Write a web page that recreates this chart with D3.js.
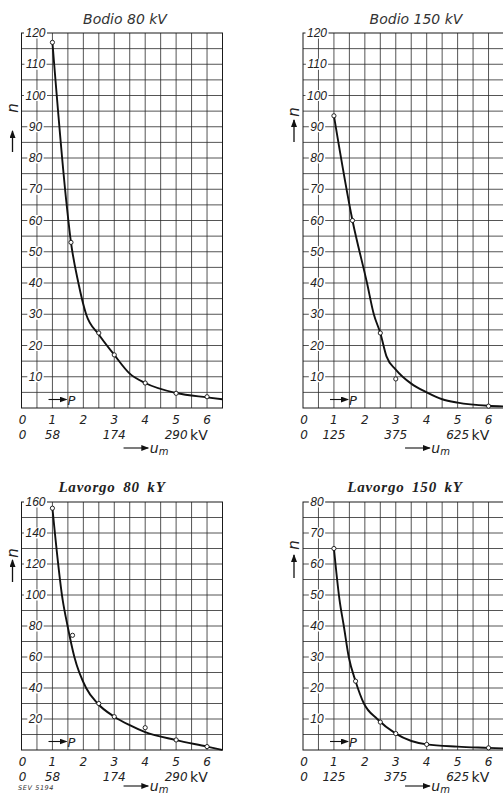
<!DOCTYPE html>
<html lang="de">
<head>
<meta charset="UTF-8">
<title>Bodio / Lavorgo – n über u_m</title>
<script src="https://cdn.jsdelivr.net/npm/d3@7"></script>
<style>
  body { margin: 0; background: #fff; }
  svg { display: block; }
  .grid line { stroke: #2a2a2a; stroke-width: 0.8; }
  .frame { fill: none; stroke: #1a1a1a; stroke-width: 1; }
  .curve { fill: none; stroke: #111; stroke-width: 1.9; }
  .pt { fill: #fff; stroke: #111; stroke-width: 0.9; }
  .ylab { font-family: 'Liberation Sans', sans-serif; font-style: italic; font-size: 12px; fill: #222; }
  .xlab { font-family: 'DejaVu Sans', sans-serif; font-style: italic; font-size: 12px; fill: #222; }
  .kv { font-family: 'DejaVu Sans', sans-serif; font-size: 14px; fill: #222; }
  .ttl-sans { font-family: 'DejaVu Sans', sans-serif; font-style: italic; font-size: 14px; fill: #333; }
  .ttl-serif { font-family: 'Liberation Serif', serif; font-style: italic; font-weight: bold; font-size: 15px; fill: #222; letter-spacing: 0.8px; word-spacing: 3px; }
  .sym { font-family: 'DejaVu Sans', sans-serif; font-style: italic; font-size: 14px; fill: #222; }
  .sev { font-family: 'DejaVu Sans', sans-serif; font-style: italic; font-size: 6.5px; fill: #333; letter-spacing: 0.6px; }
</style>
</head>
<body>
<svg id="chart" width="503" height="795"></svg>
<script>
// values: x = U/Un ratio (P), y = n
const uTicks = [0, 1, 2, 3, 4, 5, 6];
const kvPos = [0, 1, 3, 5];
const kv80Labels = ["0", "58", "174", "290"];
const kv150Labels = ["0", "125", "375", "625"];

const bodioNTicks = [10, 20, 30, 40, 50, 60, 70, 80, 90, 100, 110, 120];
const lavorgo80NTicks = [20, 40, 60, 80, 100, 120, 140, 160];
const lavorgo150NTicks = [10, 20, 30, 40, 50, 60, 70, 80];

// measured points
const bodio80Points = [[1, 117], [1.6, 53], [2.5, 24], [3, 17], [4, 8], [5, 4.7], [6, 3.6]];
const bodio150Points = [[1, 93.5], [1.6, 60], [2.5, 24], [3, 9.3], [6, 0.6]];
const lavorgo80Points = [[1, 156], [1.65, 74], [2.5, 30], [3, 21.5], [4, 14.4], [5, 6.5], [6, 2.2]];
const lavorgo150Points = [[1, 65], [1.7, 22.2], [2.5, 9], [3, 5.3], [4, 1.8], [6, 0.7]];

// faired curves
const bodio80Curve = [[1, 117], [1.45, 66], [1.6, 53], [1.84, 40], [2.09, 30], [2.5, 23.5], [3, 17], [3.5, 11], [4, 8], [5, 4.8], [6, 3.4], [6.5, 2.8]];
const bodio150Curve = [[1, 93.5], [1.6, 60], [2.07, 40], [2.29, 30], [2.5, 24], [2.7, 16.5], [3, 12.3], [3.5, 7.8], [4, 5], [4.5, 2.8], [5, 1.7], [6, 0.7], [6.5, 0.5]];
const lavorgo80Curve = [[1, 156], [1.33, 97], [1.49, 80], [1.71, 60], [2.09, 40], [2.46, 30], [3, 21.5], [3.5, 16], [4, 11.5], [5, 6.4], [6, 2.2], [6.5, 0]];
const lavorgo150Curve = [[1, 65], [1.18, 48.5], [1.32, 40], [1.48, 30], [1.7, 22.2], [1.97, 15], [2.4, 10], [3, 5.3], [4, 1.8], [5, 1.1], [6, 0.7], [6.5, 0.5]];

const svg = d3.select("#chart");

const defs = svg.append("defs");
defs.append("marker")
  .attr("id", "head")
  .attr("viewBox", "0 0 8 6")
  .attr("refX", 7).attr("refY", 3)
  .attr("markerWidth", 8).attr("markerHeight", 6)
  .attr("markerUnits", "userSpaceOnUse")
  .attr("orient", "auto")
  .append("path").attr("d", "M0,0 L8,3 L0,6 Z").attr("fill", "#111");

const panels = [
  { title: "Bodio 80 kV", serif: false, x0: 21.5, top: 33, bottom: 408, yMax: 120, yGrid: 5,
    nTicks: bodioNTicks, kv: kv80Labels, points: bodio80Points, curve: bodio80Curve,
    titleX: 125, titleY: 24, nLabelY: 108, arrowTip: 131, arrowEnd: 152, umY: 44.5, sev: false },
  { title: "Bodio 150 kV", serif: false, x0: 303, top: 33, bottom: 408, yMax: 120, yGrid: 5,
    nTicks: bodioNTicks, kv: kv150Labels, points: bodio150Points, curve: bodio150Curve,
    titleX: 416, titleY: 24, nLabelY: 112, arrowTip: 120, arrowEnd: 142, umY: 44.5, sev: false },
  { title: "Lavorgo 80 kY", serif: true, x0: 21.5, top: 502, bottom: 750, yMax: 160, yGrid: 10,
    nTicks: lavorgo80NTicks, kv: kv80Labels, points: lavorgo80Points, curve: lavorgo80Curve,
    titleX: 112, titleY: 492, nLabelY: 553, arrowTip: 560, arrowEnd: 582, umY: 40.5, sev: true },
  { title: "Lavorgo 150 kY", serif: true, x0: 303, top: 502, bottom: 750, yMax: 80, yGrid: 5,
    nTicks: lavorgo150NTicks, kv: kv150Labels, points: lavorgo150Points, curve: lavorgo150Curve,
    titleX: 405, titleY: 492, nLabelY: 545, arrowTip: 555, arrowEnd: 578, umY: 40.5, sev: false }
];

panels.forEach(drawPanel);

function drawPanel(p) {
  const x = d3.scaleLinear().domain([0, 6.5]).range([p.x0, p.x0 + 201]);
  const y = d3.scaleLinear().domain([0, p.yMax]).range([p.bottom, p.top]);
  const g = svg.append("g");

  // grid
  const grid = g.append("g").attr("class", "grid");
  grid.selectAll("line.v").data(d3.range(0.5, 6.5, 0.5)).join("line")
    .attr("class", "v")
    .attr("x1", d => x(d)).attr("x2", d => x(d))
    .attr("y1", y(p.yMax)).attr("y2", y(0));
  grid.selectAll("line.h").data(d3.range(p.yGrid, p.yMax, p.yGrid)).join("line")
    .attr("class", "h")
    .attr("x1", x(0)).attr("x2", x(6.5))
    .attr("y1", d => y(d)).attr("y2", d => y(d));
  g.append("rect").attr("class", "frame")
    .attr("x", x(0)).attr("y", y(p.yMax))
    .attr("width", x(6.5) - x(0)).attr("height", y(0) - y(p.yMax));

  // y labels on white patches inside first column
  const yl = g.append("g");
  p.nTicks.forEach(v => {
    const t = yl.append("text").attr("class", "ylab")
      .attr("x", p.x0 + 14).attr("y", y(v) + 4.2)
      .attr("text-anchor", "middle").text(v);
    const w = t.node().getComputedTextLength();
    yl.insert("rect", "text")
      .attr("x", p.x0 + 14 - w / 2 - 1.5).attr("y", y(v) - 5.5)
      .attr("width", w + 3).attr("height", 11)
      .attr("fill", "#fff");
  });

  // curve and points
  const line = d3.line().x(d => x(d[0])).y(d => y(d[1])).curve(d3.curveMonotoneX);
  g.append("path").attr("class", "curve").attr("d", line(p.curve));
  g.selectAll("circle").data(p.points).join("circle").attr("class", "pt")
    .attr("cx", d => x(d[0])).attr("cy", d => y(d[1])).attr("r", 2.1);

  // -> P
  g.append("line").attr("x1", p.x0 + 27).attr("x2", p.x0 + 45)
    .attr("y1", p.bottom - 8.5).attr("y2", p.bottom - 8.5)
    .attr("stroke", "#111").attr("stroke-width", 1.1).attr("marker-end", "url(#head)");
  g.append("text").attr("class", "sym").attr("x", p.x0 + 46).attr("y", p.bottom - 3.5)
    .style("font-size", "13px").text("P");

  // x labels
  g.selectAll("text.xlab").data(uTicks).join("text").attr("class", "xlab")
    .attr("x", d => x(d) + (d === 0 ? 1 : 0)).attr("y", p.bottom + 15.5)
    .attr("text-anchor", "middle").text(d => d);
  g.selectAll("text.kvl").data(p.kv).join("text").attr("class", "xlab kvl")
    .attr("x", (d, i) => x(kvPos[i]) + (i === 0 ? 1 : 0)).attr("y", p.bottom + 31)
    .attr("text-anchor", "middle").text(d => d);
  g.append("text").attr("class", "kv").attr("x", x(5) + 14).attr("y", p.bottom + 31.5).text("kV");

  // -> u_m
  g.append("line").attr("x1", x(3.3)).attr("x2", x(4.1))
    .attr("y1", p.bottom + p.umY - 4.5).attr("y2", p.bottom + p.umY - 4.5)
    .attr("stroke", "#111").attr("stroke-width", 1.1).attr("marker-end", "url(#head)");
  const um = g.append("text").attr("class", "sym").attr("x", x(4.15)).attr("y", p.bottom + p.umY);
  um.append("tspan").text("u");
  um.append("tspan").attr("dy", 2.5).style("font-size", "10px").text("m");

  // n with arrow
  g.append("text").attr("class", "sym")
    .attr("transform", `translate(${p.x0 - 9},${p.nLabelY}) rotate(-90)`)
    .attr("text-anchor", "middle").attr("dy", "0.35em").style("font-size", "15px").text("n");
  g.append("line").attr("x1", p.x0 - 9).attr("x2", p.x0 - 9)
    .attr("y1", p.arrowEnd).attr("y2", p.arrowTip)
    .attr("stroke", "#111").attr("stroke-width", 1.3).attr("marker-end", "url(#head)");

  // title
  g.append("text").attr("class", p.serif ? "ttl-serif" : "ttl-sans")
    .attr("x", p.titleX).attr("y", p.titleY).attr("text-anchor", "middle").text(p.title);

  if (p.sev) {
    g.append("text").attr("class", "sev").attr("x", 18).attr("y", 790).text("SEV 5194");
  }
}
</script>
</body>
</html>
